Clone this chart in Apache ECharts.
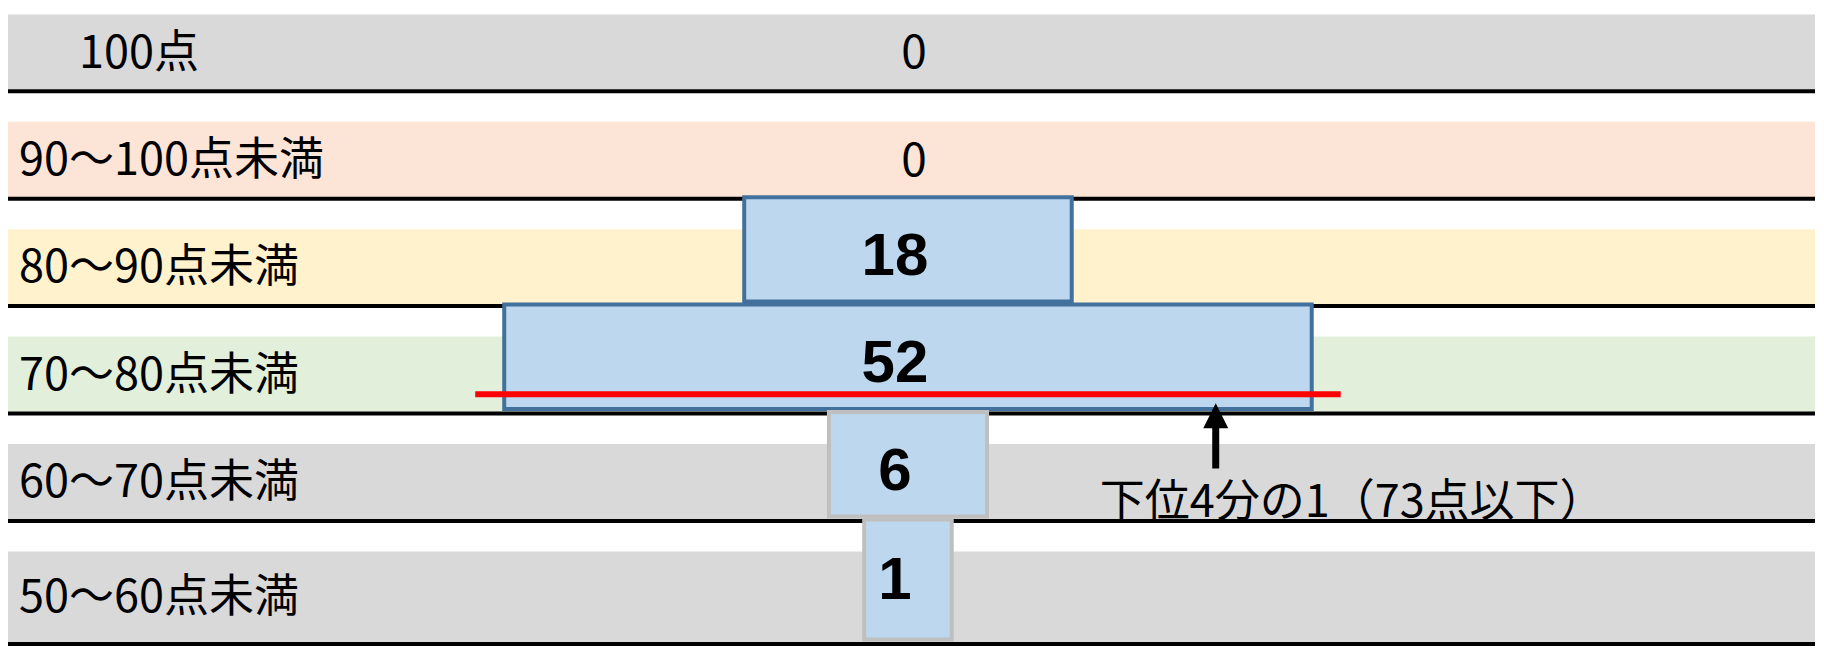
<!DOCTYPE html>
<html>
<head>
<meta charset="utf-8">
<script src="https://cdn.jsdelivr.net/npm/echarts@6/dist/echarts.min.js"></script>
<style>html,body{margin:0;padding:0;background:#fff}#chart{width:1824px;height:661px}</style>
</head>
<body>
<div id="chart"></div>
<script>
// ---- data ----
const categories = ['100点', '90〜100点未満', '80〜90点未満', '70〜80点未満', '60〜70点未満', '50〜60点未満'];
const counts = [0, 0, 18, 52, 6, 1];
const quartileText = '下位4分の1（73点以下）';

// ---- styles ----
const bandColors = ['#D9D9D9', '#FCE4D6', '#FFF2CC', '#E2EFDA', '#D9D9D9', '#D9D9D9'];
const boxEdgeColors = ['#41719C', '#41719C', '#41719C', '#41719C', '#BFBFBF', '#BFBFBF'];
const labelIndent = [60, 0, 0, 0, 0, 0];
const CJK = '"Noto Sans CJK JP", "Noto Sans", sans-serif';
const PAD = 5.2;         // extra box width (axis units)
const GAP = 30.5;        // white gap above each coloured band (px)
const LAST_EXTRA = 15.7; // last row is taller (px)
const TEXT_SHIFT = -4;   // optical centring of CJK text (px)

const chart = echarts.init(document.getElementById('chart'), null, {renderer: 'svg'});

function slot(api, i) {
  const c = api.coord([0, i]);
  const h = api.size([0, 1])[1];
  const top = c[1] - h / 2;
  let bottom = c[1] + h / 2;
  if (i === categories.length - 1) bottom += LAST_EXTRA;
  return {cx: c[0], top: top, bottom: bottom};
}

function renderBackground(params, api) {
  const i = api.value(0), v = api.value(1);
  const s = slot(api, i);
  const cs = params.coordSys;
  const bandTop = s.top + GAP, bandBottom = s.bottom - 1.5;
  const mid = (bandTop + bandBottom) / 2 + TEXT_SHIFT;
  const children = [
    {type: 'rect', shape: {x: cs.x, y: bandTop, width: cs.width, height: bandBottom - bandTop},
     style: {fill: bandColors[i]}},
    {type: 'line', shape: {x1: cs.x, y1: s.bottom, x2: cs.x + cs.width, y2: s.bottom},
     style: {stroke: '#000', lineWidth: 4}},
    {type: 'text', x: cs.x + 11 + labelIndent[i], y: mid,
     style: {text: categories[i], fontSize: 45, fontFamily: CJK, fill: '#000', align: 'left', verticalAlign: 'middle'}}
  ];
  if (v === 0) {
    children.push({type: 'text', x: s.cx + 6, y: mid,
      style: {text: String(v), fontSize: 46, fontFamily: CJK, fill: '#000', align: 'center', verticalAlign: 'middle'}});
  }
  return {type: 'group', children: children};
}

function renderBoxes(params, api) {
  const i = api.value(0), v = api.value(1);
  if (!v) return {type: 'group', children: []};
  const s = slot(api, i);
  const x0 = api.coord([-(v + PAD) / 2, i])[0];
  const x1 = api.coord([(v + PAD) / 2, i])[0];
  const y = s.top - 1.5, h = s.bottom - s.top - 3;
  return {type: 'group', children: [
    {type: 'rect', shape: {x: x0, y: y, width: x1 - x0, height: h},
     style: {fill: '#BDD7EE', stroke: boxEdgeColors[i], lineWidth: 4}},
    {type: 'text', x: s.cx - 13, y: y + Math.min(h, 108) / 2 + 5,
     style: {text: String(v), fontSize: 60, fontWeight: 'bold', fontFamily: '"Liberation Sans", Arial, sans-serif',
             fill: '#000', align: 'center', verticalAlign: 'middle'}}
  ]};
}

// lower quartile position (by rank, counted from the lowest bin)
const total = counts.reduce((a, b) => a + b, 0);
const qRank = total / 4;
let qIdx = counts.length - 1, below = 0;
for (let i = counts.length - 1; i >= 0; i--) {
  if (below + counts[i] >= qRank) { qIdx = i; break; }
  below += counts[i];
}
const qFrac = (qRank - below) / counts[qIdx];

function renderQuartile(params, api) {
  const i = api.value(0), frac = api.value(1);
  const s = slot(api, i);
  const bandTop = s.top + GAP, bandBottom = s.bottom - 1.5;
  const y = bandBottom - frac * (bandBottom - bandTop);
  const v = counts[i];
  const xl = api.coord([-(v + PAD) / 2, i])[0];
  const xr = api.coord([(v + PAD) / 2, i])[0];
  const ax = xr - 96;
  const tip = y + 9;
  const next = slot(api, i + 1);
  const shaftEnd = next.top + 55;
  return {type: 'group', children: [
    {type: 'line', shape: {x1: xl - 29, y1: y, x2: xr + 29, y2: y},
     style: {stroke: '#FF0000', lineWidth: 6}},
    {type: 'polygon', shape: {points: [[ax, tip], [ax - 12.5, tip + 25], [ax + 12.5, tip + 25]]},
     style: {fill: '#000'}},
    {type: 'rect', shape: {x: ax - 3.5, y: tip + 24, width: 7, height: shaftEnd - tip - 24},
     style: {fill: '#000'}},
    {type: 'text', x: ax - 116, y: next.bottom - 23,
     style: {text: quartileText, fontSize: 45, fontFamily: CJK, fill: '#000', align: 'left', verticalAlign: 'middle'}}
  ]};
}

const rows = categories.map((c, i) => [i, counts[i]]);

chart.setOption({
  animation: false,
  backgroundColor: '#fff',
  grid: {left: 8, right: 9, top: -16.1, bottom: 32.7, outerBoundsMode: 'none'},
  xAxis: {type: 'value', min: -63.75, max: 64.25, show: false},
  yAxis: {type: 'category', data: categories, inverse: true, show: false},
  series: [
    {type: 'custom', z: 1, renderItem: renderBackground, data: rows, clip: false},
    {type: 'custom', z: 3, renderItem: renderBoxes, data: rows, clip: false},
    {type: 'custom', z: 5, renderItem: renderQuartile, data: [[qIdx, qFrac]], clip: false}
  ]
});
</script>
</body>
</html>
